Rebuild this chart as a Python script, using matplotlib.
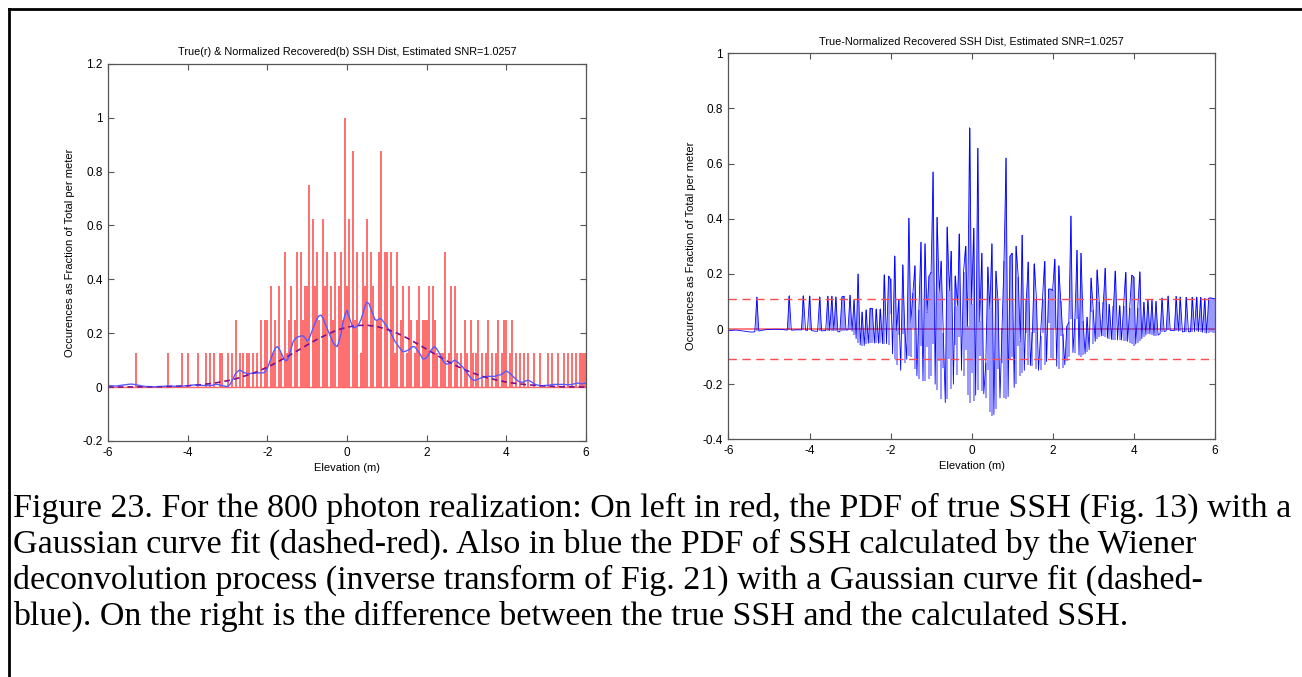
import numpy as np
import matplotlib.pyplot as plt
from matplotlib.lines import Line2D

plt.rcParams['font.family'] = ['Liberation Sans', 'DejaVu Sans']

# elevation grid (m), 0.05 m step
elev = np.linspace(-6, 6, 241)

# photon counts of true SSH per bin (1 count = 0.125 per meter), one row per metre
true_counts = (
    [0, 0, 0, 0, 0, 0, 0, 0, 0, 0, 0, 0, 0, 0, 1, 0, 0, 0, 0, 0] +   # -6 .. -5
    [0, 0, 0, 0, 0, 0, 0, 0, 0, 0, 1, 0, 0, 0, 0, 0, 0, 1, 0, 0] +   # -5 .. -4
    [1, 0, 0, 0, 0, 1, 0, 0, 0, 1, 0, 1, 0, 1, 0, 0, 1, 1, 0, 0] +   # -4 .. -3
    [1, 0, 1, 0, 2, 0, 1, 0, 1, 0, 1, 1, 0, 1, 0, 1, 0, 2, 0, 2] +   # -3 .. -2
    [2, 0, 3, 1, 2, 0, 3, 1, 0, 4, 1, 2, 3, 0, 2, 4, 0, 4, 2, 3] +   # -2 .. -1
    [3, 6, 0, 5, 3, 4, 2, 0, 5, 3, 4, 0, 3, 2, 4, 0, 3, 4, 2, 8] +   # -1 .. 0
    [3, 5, 0, 7, 2, 4, 0, 1, 4, 3, 5, 0, 4, 3, 0, 2, 4, 7, 0, 4] +   # 0 .. 1
    [4, 0, 4, 3, 1, 4, 0, 2, 3, 0, 1, 3, 2, 0, 1, 2, 3, 0, 2, 2] +   # 1 .. 2
    [2, 3, 0, 3, 2, 1, 0, 1, 1, 4, 0, 1, 3, 0, 3, 1, 0, 1, 0, 2] +   # 2 .. 3
    [1, 0, 2, 1, 0, 1, 2, 0, 1, 0, 1, 2, 0, 1, 0, 1, 2, 0, 1, 2] +   # 3 .. 4
    [2, 0, 1, 2, 0, 1, 0, 1, 0, 1, 0, 1, 0, 0, 1, 0, 0, 1, 0, 0] +   # 4 .. 5
    [0, 1, 0, 1, 0, 0, 1, 0, 0, 1, 0, 1, 0, 1, 0, 1, 0, 1, 1, 1] +   # 5 .. 6
    [1])

# lowest count reached inside each bin (non-zero only in the core, -2 .. 3 m)
floor_counts = (
    [0] * 80 +
    [1, 0, 0, 0, 1, 0, 1, 0, 0, 0, 0, 1, 0, 0, 0, 1, 0, 0, 1, 0] +   # -2 .. -1
    [0, 1, 0, 0, 1, 0, 1, 0, 0, 1, 0, 0, 1, 0, 1, 0, 0, 1, 0, 0] +   # -1 .. 0
    [1, 0, 0, 0, 1, 0, 0, 0, 1, 0, 0, 0, 0, 1, 0, 1, 0, 0, 0, 1] +   # 0 .. 1
    [1, 0, 0, 1, 0, 0, 0, 1, 0, 0, 0, 1, 0, 0, 0, 1, 0, 0, 1, 0] +   # 1 .. 2
    [0, 1, 0, 0, 1, 0, 0, 0, 0, 1, 0, 0, 1, 0, 0, 0, 0, 0, 0, 1] +   # 2 .. 3
    [0] * 61)

# recovered (Wiener deconvolved) SSH pdf on the same grid
recovered_pdf = (
    [.006, .005, .005, .004, .004, .005, .006, .007, .008, .009, .010, .011, .011, .010, .009, .007, .006, .004, .003, .002] +
    [.002, .002, .001, .001, .001, .001, .002, .002, .003, .004, .004, .004, .004, .003, .003, .003, .003, .004, .004, .005] +
    [.005, .006, .007, .008, .008, .008, .007, .006, .006, .006, .006, .006, .006, .008, .010, .010, .008, .006, .004, .003] +
    [.002, .008, .020, .035, .050, .058, .063, .060, .055, .052, .050, .050, .051, .052, .052, .052, .053, .053, .053, .058] +
    [.070, .090, .110, .130, .145, .150, .142, .125, .110, .098, .100, .120, .145, .170, .180, .185, .188, .190, .190, .182] +
    [.170, .180, .200, .220, .240, .255, .265, .267, .255, .235, .218, .200, .182, .165, .155, .150, .170, .200, .240, .270] +
    [.285, .260, .240, .220, .222, .225, .235, .250, .275, .300, .315, .310, .290, .270, .250, .248, .252, .255, .245, .235] +
    [.225, .212, .200, .185, .170, .160, .150, .140, .132, .132, .135, .138, .145, .150, .150, .140, .130, .118, .105, .105] +
    [.110, .122, .135, .145, .150, .142, .130, .115, .100, .090, .085, .087, .090, .095, .100, .095, .090, .082, .075, .065] +
    [.055, .045, .035, .028, .025, .027, .030, .033, .036, .038, .040, .040, .040, .040, .040, .042, .045, .045, .050, .055] +
    [.060, .055, .050, .042, .035, .028, .022, .019, .018, .020, .024, .025, .022, .017, .012, .009, .007, .005, .005, .006] +
    [.006, .007, .008, .009, .010, .010, .010, .010, .010, .010, .009, .009, .009, .010, .012, .014, .015, .013, .012, .014] +
    [.015])

# gaussian curve fits, sampled every 0.25 m
fit_x = np.linspace(-6, 6, 49)
true_fit = [.000, .000, .000, .001, .001, .001, .002, .003, .005, .008, .012, .017, .024,
            .033, .045, .058, .075, .093, .114, .135, .157, .178, .196, .212, .223, .229,
            .230, .225, .214, .200, .182, .161, .140, .118, .097, .078, .061, .047, .035,
            .026, .018, .013, .009, .006, .004, .002, .001, .001, .000]
rec_fit = [.000, .000, .001, .001, .001, .002, .002, .003, .005, .008, .012, .017, .023,
           .032, .044, .057, .073, .092, .113, .134, .156, .177, .195, .211, .222, .228,
           .229, .225, .215, .201, .183, .163, .141, .119, .098, .079, .062, .048, .036,
           .027, .019, .013, .009, .006, .004, .002, .001, .001, .000]

noise_level = 0.108

left_yticks = [-0.2, 0, 0.2, 0.4, 0.6, 0.8, 1, 1.2]
left_ylabels = ['-0.2', '0', '0.2', '0.4', '0.6', '0.8', '1', '1.2']
right_yticks = [-0.4, -0.2, 0, 0.2, 0.4, 0.6, 0.8, 1]
right_ylabels = ['-0.4', '-0.2', '0', '0.2', '0.4', '0.6', '0.8', '1']
xticks = [-6, -4, -2, 0, 2, 4, 6]
xlabels = ['-6', '-4', '-2', '0', '2', '4', '6']

caption = [
    "Figure 23. For the 800 photon realization: On left in red, the PDF of true SSH (Fig. 13) with a",
    "Gaussian curve fit (dashed-red). Also in blue the PDF of SSH calculated by the Wiener",
    "deconvolution process (inverse transform of Fig. 21) with a Gaussian curve fit (dashed-",
    "blue). On the right is the difference between the true SSH and the calculated SSH.",
]

true_pdf = np.array(true_counts) * 0.125
rec = np.array(recovered_pdf)
diff = true_pdf - rec
diff_low = np.array(floor_counts) * 0.125 - rec

fig = plt.figure(figsize=(13.02, 6.77), dpi=100)
ax1 = fig.add_axes([0.0830, 0.3486, 0.3671, 0.5573])
ax2 = fig.add_axes([0.5595, 0.3511, 0.3735, 0.5702])

# left: true pdf as vertical strokes, recovered pdf and both fits
ax1.vlines(elev, 0, true_pdf, color='red', lw=1.15, alpha=0.7)
ax1.axhline(0, color=(1, 0.4, 0.4), lw=1.0)
ax1.plot(fit_x, true_fit, color='red', lw=1.0, ls=(0, (4, 3)))
ax1.plot(elev, rec, color=(0.35, 0.35, 1.0), lw=1.0)
ax1.plot(fit_x, rec_fit, color=(0.25, 0.1, 0.85), lw=1.0, ls=(0, (4, 3)), alpha=0.8)

# right: difference true - recovered
ax2.axhline(0, color=(1, 0.45, 0.45), lw=1.3)
ax2.vlines(elev, diff_low, diff, color='blue', lw=1.15, alpha=0.5)
ax2.plot(elev, diff, color='blue', lw=0.6)
ax2.axhline(noise_level, color=(1, 0.3, 0.3), lw=1.0, ls=(0, (6, 4)))
ax2.axhline(-noise_level, color=(1, 0.3, 0.3), lw=1.0, ls=(0, (6, 4)))

ax1.set_ylim(-0.2, 1.2)
ax1.set_yticks(left_yticks)
ax1.set_yticklabels(left_ylabels)
ax1.set_title('True(r) & Normalized Recovered(b) SSH Dist, Estimated SNR=1.0257', fontsize=7.8, pad=6)
ax2.set_ylim(-0.4, 1)
ax2.set_yticks(right_yticks)
ax2.set_yticklabels(right_ylabels)
ax2.set_title('True-Normalized Recovered SSH Dist, Estimated SNR=1.0257', fontsize=7.8, pad=6)

for ax in (ax1, ax2):
    ax.set_xlim(-6, 6)
    ax.set_xticks(xticks)
    ax.set_xticklabels(xlabels)
    ax.set_xlabel('Elevation (m)', fontsize=8, labelpad=3)
    ax.set_ylabel('Occurences as Fraction of Total per meter', fontsize=8, labelpad=5)
    ax.tick_params(direction='in', top=True, right=True, length=4, width=0.8,
                   color='#555555', labelsize=8.5, pad=4)
    for s in ax.spines.values():
        s.set_color('#555555')
        s.set_linewidth(0.9)

# caption, width fitted to the page
txts = []
for i, line in enumerate(caption):
    t = fig.text(13 / 1302, 1 - (508 + 36 * i) / 677, line, family=['Liberation Serif', 'DejaVu Serif'],
                 fontsize=20, va='center', ha='left')
    txts.append(t)
fig.canvas.draw()
w = txts[0].get_window_extent().width
for t in txts:
    t.set_fontsize(20 * 1277 / w)

# page frame (left and top edges)
fig.add_artist(Line2D([8.5 / 1302, 8.5 / 1302], [0, 1 - 9 / 677], transform=fig.transFigure, color='black', lw=2))
fig.add_artist(Line2D([8.5 / 1302, 1], [1 - 9 / 677, 1 - 9 / 677], transform=fig.transFigure, color='black', lw=2))

fig.savefig('out.png', dpi=100)
